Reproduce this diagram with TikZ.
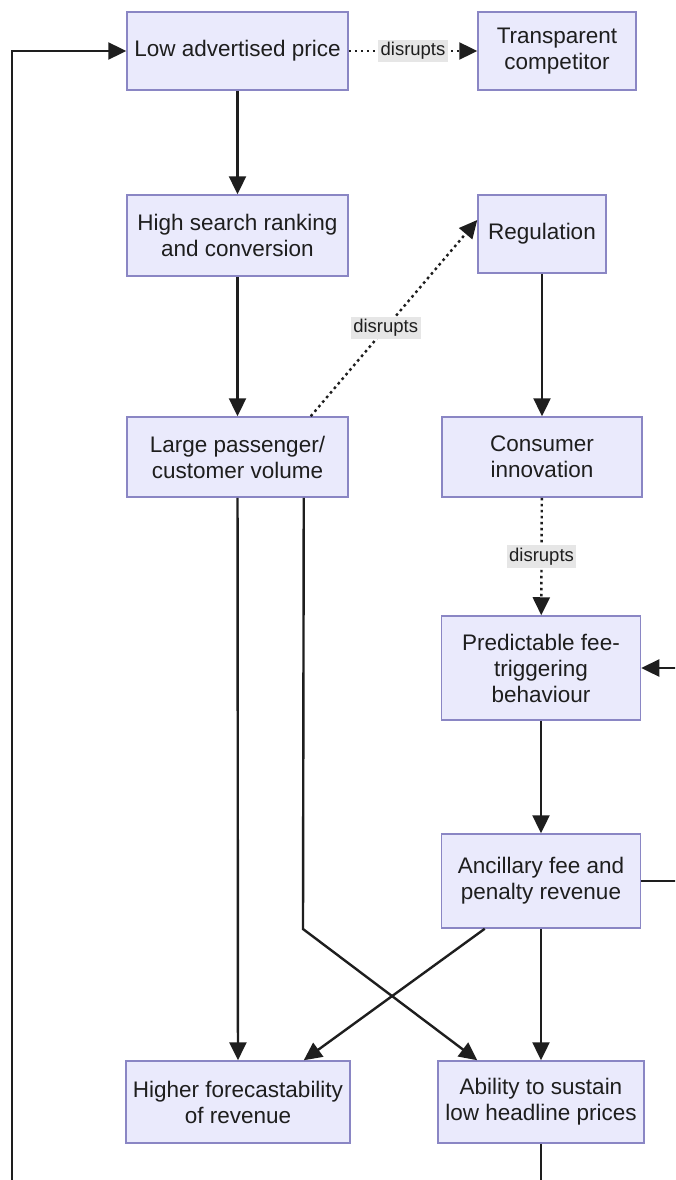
\documentclass[tikz,border=0pt]{standalone}
\usepackage{fontspec}
\setmainfont{Liberation Sans}
\usepackage{xcolor}
\definecolor{Col1}{RGB}{234,234,252}
\definecolor{Col2}{RGB}{138,134,196}
\definecolor{Col3}{RGB}{230,230,230}
\definecolor{Col4}{RGB}{30,30,30}
\usepackage{tikz}
\usetikzlibrary{arrows.meta}
\tikzstyle{Box}=[rectangle,draw=Col2,fill=Col1,line width=1.5pt,align=center,
text=Col4,inner sep=2pt,font=\fontsize{22.5}{26}\selectfont]
\tikzstyle{Flow}=[draw=Col4,line width=2.4pt,-{Triangle[length=18pt,width=17pt]}]
\tikzstyle{Disrupt}=[Flow,dash pattern=on 2.6pt off 3.4pt]
\tikzstyle{Tag}=[fill=Col3,text=Col4,inner sep=2.5pt,font=\fontsize{18.5}{20}\selectfont]

\begin{document}
\begin{tikzpicture}[x=1pt,y=-1pt]
        \useasboundingbox[fill=white](0,0) rectangle (675,1180);
        \clip (0,0) rectangle (675,1180);
        \node[Box,minimum width=221pt,minimum height=78pt](low)at(237.5,51)
            {Low advertised price};
        \node[Box,minimum width=158pt,minimum height=78pt](trans)at(557,51)
            {Transparent\\competitor};
        \node[Box,minimum width=221pt,minimum height=81pt](search)at(237.5,235.5)
            {High search ranking\\and conversion};
        \node[Box,minimum width=128pt,minimum height=78pt](reg)at(542,234)
            {Regulation};
        \node[Box,minimum width=221pt,minimum height=80pt](volume)at(237.5,457)
            {Large passenger/\\customer volume};
        \node[Box,minimum width=200pt,minimum height=80pt](innov)at(542,457)
            {Consumer\\innovation};
        \node[Box,minimum width=199pt,minimum height=104pt](fees)at(541,668)
            {Predictable fee-\\triggering\\behaviour};
        \node[Box,minimum width=199pt,minimum height=94pt](ancil)at(541,881)
            {Ancillary fee and\\penalty revenue};
        \node[Box,minimum width=224pt,minimum height=82pt](forecast)at(238,1102)
            {Higher forecastability\\of revenue};
        \node[Box,minimum width=206pt,minimum height=82pt](sustain)at(541,1102)
            {Ability to sustain\\low headline prices};
        \coordinate(bend)at(303,929);
        \coordinate(loopR)at(541,1230);
        \coordinate(loopL)at(12,1230);
        \coordinate(backR)at(720,881);
        \draw[Disrupt](low.east)--(trans.west)
            node[Tag,midway]{disrupts};
        \draw[Flow](low)--(search);
        \draw[Flow](search)--(volume);
        \draw[Disrupt]([xshift=-38pt]volume.north east)--([yshift=14pt]reg.west)
            node[Tag,pos=.45]{disrupts};
        \draw[Flow](reg)--(innov);
        \draw[Disrupt](innov)--(fees)
            node[Tag,midway]{disrupts};
        \draw[Flow](fees)--(ancil);
        \draw[Flow](volume)--(forecast);
        \draw[Flow]([xshift=-45pt]volume.south east)--(bend)
            --([xshift=40pt]sustain.north west);
        \draw[Flow]([xshift=44pt]ancil.south west)--([xshift=-47pt]forecast.north east);
        \draw[Flow](ancil)--(sustain);
        \draw[Flow](ancil.east)--(backR)|-(fees.east);
        \draw[Flow](sustain.south)--(loopR)--(loopL)|-(low.west);
    \end{tikzpicture}
\end{document}
